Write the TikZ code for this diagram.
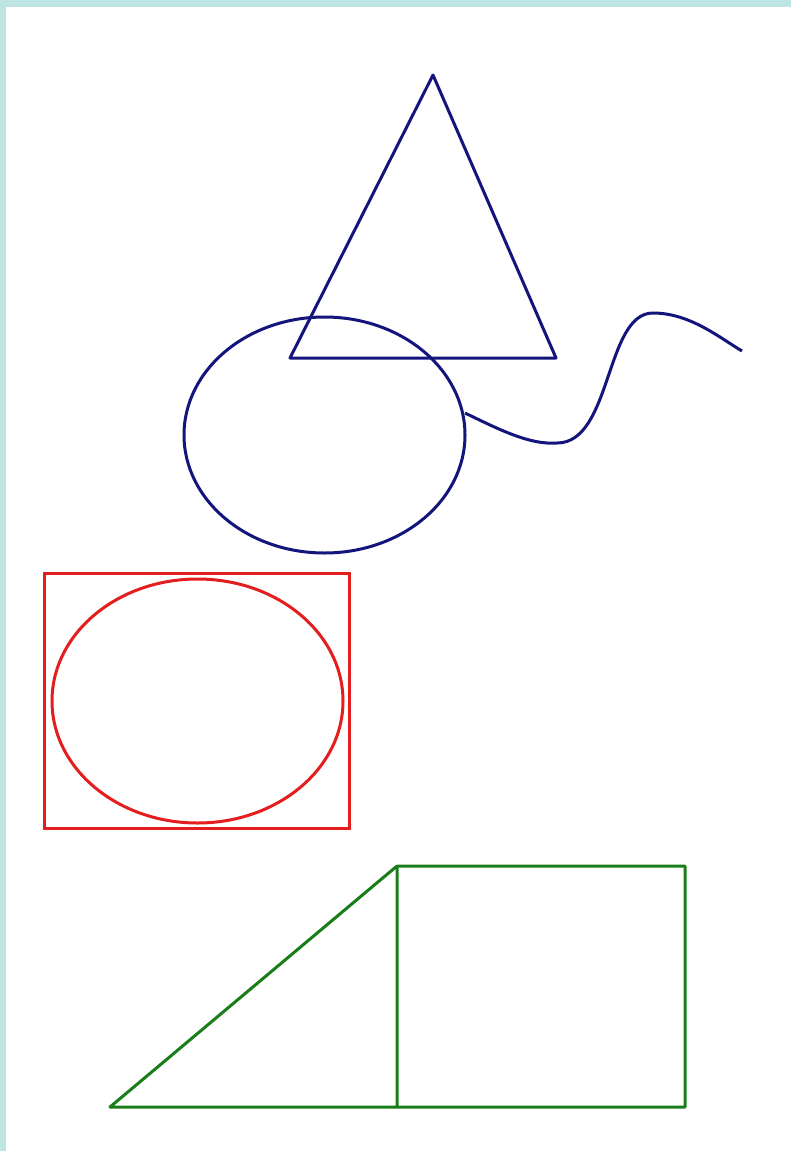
\documentclass[tikz,border=0pt]{standalone}
\begin{document}
\begin{tikzpicture}[x=1pt,y=-1pt,
  navyline/.style={draw=navy,line width=3pt,line join=round},
  redline/.style={draw=shapered,line width=3pt},
  greenline/.style={draw=shapegreen,line width=3pt,line join=round}]
\definecolor{navy}{RGB}{20,20,125}
\definecolor{shapered}{RGB}{228,30,30}
\definecolor{shapegreen}{RGB}{25,125,25}
\definecolor{framecyan}{RGB}{190,228,228}
\useasboundingbox (0,0) rectangle (791,1151);
\fill[white] (0,0) rectangle (791,1151);
\fill[framecyan] (0,0) rectangle (6,1151);
\fill[framecyan] (0,0) rectangle (791,7);
% blue group
\coordinate (apex) at (433,75);
\coordinate (bl) at (290,358);
\coordinate (br) at (556,358);
\draw[navyline] (apex) -- (br) -- (bl) -- cycle;
\draw[navyline] (324.5,435) ellipse [x radius=140.5, y radius=118];
\coordinate (w0) at (465,413);
\coordinate (w1) at (557,443);
\coordinate (w2) at (653,313);
\coordinate (w3) at (742,351);
\draw[navyline] (w0) .. controls (500,430) and (530,445) .. (w1)
  .. controls (612,443) and (605,313) .. (w2)
  .. controls (690,313) and (720,338) .. (w3);
% red group
\draw[redline] (44,573) rectangle (349,828);
\draw[redline] (197.5,701) ellipse [x radius=145.5, y radius=122];
% green group
\coordinate (ga) at (397,866);
\coordinate (gb) at (110,1107);
\coordinate (gc) at (397,1107);
\coordinate (gd) at (685,1107);
\coordinate (ge) at (685,866);
\draw[greenline] (ga) -- (gb) -- (gd) -- (ge) -- (ga) -- (gc);
\end{tikzpicture}
\end{document}
